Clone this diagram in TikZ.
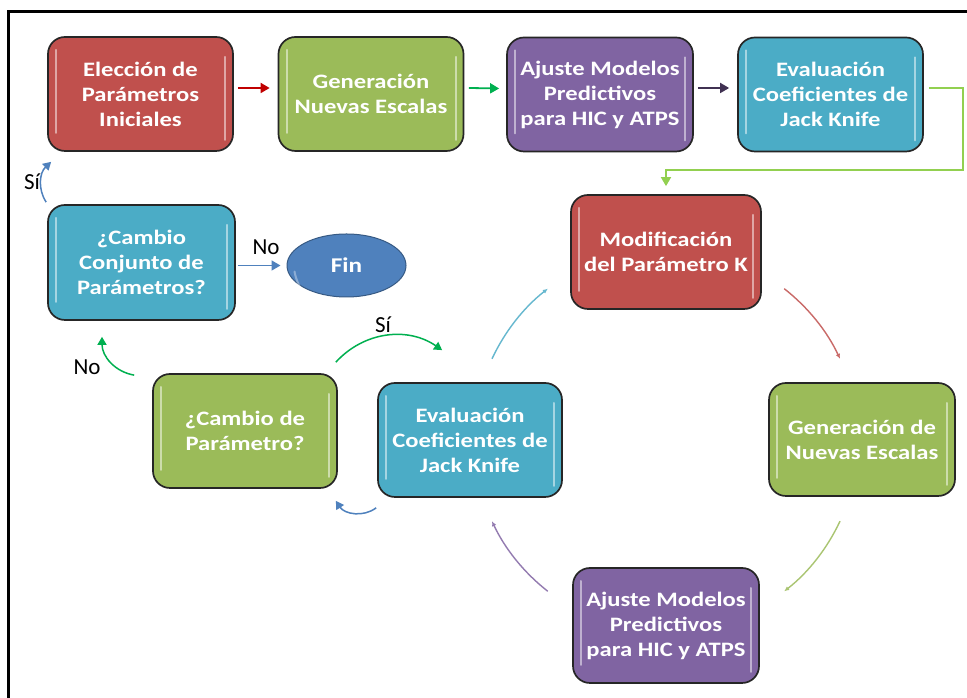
\documentclass[tikz,border=0pt]{standalone}
\usepackage{fontspec}
\setmainfont{Carlito}
\newfontfamily\boxfont{Carlito}[FakeStretch=1.2]
\usetikzlibrary{arrows.meta,shapes.geometric,calc}

\definecolor{boxred}{HTML}{C0504D}
\definecolor{boxgreen}{HTML}{9BBB59}
\definecolor{boxpurple}{HTML}{8064A2}
\definecolor{boxaqua}{HTML}{4BACC6}
\definecolor{finblue}{HTML}{4F81BD}
\definecolor{arrred}{HTML}{C00000}
\definecolor{arrgreen}{HTML}{00B050}
\definecolor{arrpurple}{HTML}{403152}
\definecolor{arrlime}{HTML}{92D050}

\tikzset{
  stepbox/.style={
    rounded corners=17pt, draw=black!85, line width=1.7pt,
    minimum width=185pt, minimum height=114pt, inner sep=0pt,
    text=white, align=center,
    font=\boxfont\bfseries\fontsize{20.5}{25}\selectfont,
    path picture={
      \draw[white, opacity=.5, line width=2pt, line cap=round]
        ([shift={(8pt,-13pt)}]path picture bounding box.north west) --
        ([shift={(8pt,18pt)}]path picture bounding box.south west);
      \draw[white, opacity=.5, line width=2pt, line cap=round]
        ([shift={(-8pt,-20pt)}]path picture bounding box.north east) --
        ([shift={(-8pt,11pt)}]path picture bounding box.south east);
    }},
  flowarrow/.style={line width=1.8pt, -{Triangle[length=9pt,width=10pt]}},
  ringarrow/.style={line width=1.4pt, -{Latex[length=5pt,width=4.5pt]}},
  loopbend/.style={line width=1.5pt, -{Triangle[length=8pt,width=9pt]}},
  answer/.style={font=\fontsize{23}{25}\selectfont, text=black, inner sep=0pt}
}

\begin{document}
\begin{tikzpicture}[x=1pt, y=1pt]
\clip (0,0) rectangle (967,698);
\fill[white] (0,0) rectangle (967,698);

% frame
\draw[line width=3.5pt] (8.5,-20) rectangle (990,686.5);

% top row
\node[stepbox, fill=boxred]    (elec) at (140.5,604) {Elección de\\Parámetros\\Iniciales};
\node[stepbox, fill=boxgreen]  (gen1) at (371,604)   {Generación\\Nuevas Escalas};
\node[stepbox, fill=boxpurple, minimum width=186pt] (aj1) at (600,603.5) {Ajuste Modelos\\Predictivos\\para HIC y ATPS};
\node[stepbox, fill=boxaqua]   (ev1)  at (830.5,603.5) {Evaluación\\Coeficientes de\\Jack Knife};

% ring of steps
\coordinate (ring) at (666,258);
\node[stepbox, fill=boxred, minimum width=190pt] (mod) at (666,446) {Modificación\\del Parámetro K};
\node[stepbox, fill=boxgreen, minimum width=186pt, minimum height=113pt] (gen2) at (862,258.5) {Generación de\\Nuevas Escalas};
\node[stepbox, fill=boxpurple, minimum width=186pt, minimum height=115pt] (aj2) at (666,72.5) {Ajuste Modelos\\Predictivos\\para HIC y ATPS};
\node[stepbox, fill=boxaqua, minimum width=184pt] (ev2) at (470,258) {Evaluación\\Coeficientes de\\Jack Knife};

% decisions
\node[stepbox, fill=boxaqua, minimum width=187pt, minimum height=115pt] (conj) at (141.5,435.5) {¿Cambio\\Conjunto de\\Parámetros?};
\node[stepbox, fill=boxgreen, minimum width=184pt] (cam) at (245,267) {¿Cambio de\\Parámetro?};
\node[ellipse, fill=finblue, draw=finblue!70!black, line width=1pt,
      minimum width=119pt, minimum height=63pt, inner sep=0pt,
      text=white, font=\boxfont\bfseries\fontsize{21}{25}\selectfont] (fin) at (346.5,432.5) {Fin};
\draw[white, opacity=.35, line width=2pt, line cap=round]
  ([shift={(-52pt,-6pt)}]fin.center) arc[start angle=190, end angle=250, radius=50pt];

% top row connectors
\draw[flowarrow, arrred]    ([shift={(4pt,6pt)}]elec.east) -- ([shift={(-8pt,6pt)}]gen1.west);
\draw[flowarrow, arrgreen]  ([shift={(4.5pt,6pt)}]gen1.east) -- ([shift={(-7pt,6pt)}]aj1.west);
\draw[flowarrow, arrpurple] ([shift={(4pt,6.5pt)}]aj1.east) -- ([shift={(-8pt,6.5pt)}]ev1.west);
\draw[flowarrow, arrlime, line width=1.6pt]
  ([shift={(5pt,6.5pt)}]ev1.east) -- ++(34pt,0) |- ([yshift=24pt]mod.north) -- ([yshift=8pt]mod.north);

% ring connectors
\draw[ringarrow, boxred!85]    ([shift={(52:192pt)}]ring) arc[start angle=52, end angle=25, radius=192pt];
\draw[ringarrow, boxgreen!85]  ([shift={(-25:192pt)}]ring) arc[start angle=-25, end angle=-52, radius=192pt];
\draw[ringarrow, boxpurple!85] ([shift={(-128:192pt)}]ring) arc[start angle=-128, end angle=-155, radius=192pt];
\draw[ringarrow, boxaqua!85]   ([shift={(155:192pt)}]ring) arc[start angle=155, end angle=128, radius=192pt];

% decision connectors
\draw[loopbend, finblue, line width=1.6pt, -{Triangle[length=9pt,width=10pt]}]
  ([xshift=2pt]conj.east |- fin.west) -- ([xshift=-6pt]fin.west);
\node[answer] (noFin) at (266,451) {No};

\draw[loopbend, arrgreen] ([shift={(-18pt,-2pt)}]cam.north west) to[bend left=40] ([shift={(-39.5pt,-16pt)}]conj.south);
\node[answer] (noConj) at (87,331) {No};

\draw[loopbend, arrgreen] ([shift={(-2pt,11pt)}]cam.north east) to[bend left=41] ([shift={(65pt,32pt)}]ev2.north west);
\node[answer] (siEval) at (383,373) {Sí};

\draw[loopbend, finblue] ([shift={(-1pt,-10pt)}]ev2.south west) to[bend left=47] ([shift={(-2pt,-12pt)}]cam.south east);

\draw[loopbend, finblue] ([shift={(-1pt,2pt)}]conj.north west) to[bend left=40] ([shift={(4pt,-10pt)}]elec.south west);
\node[answer] (siElec) at (32,516) {Sí};
\end{tikzpicture}
\end{document}
